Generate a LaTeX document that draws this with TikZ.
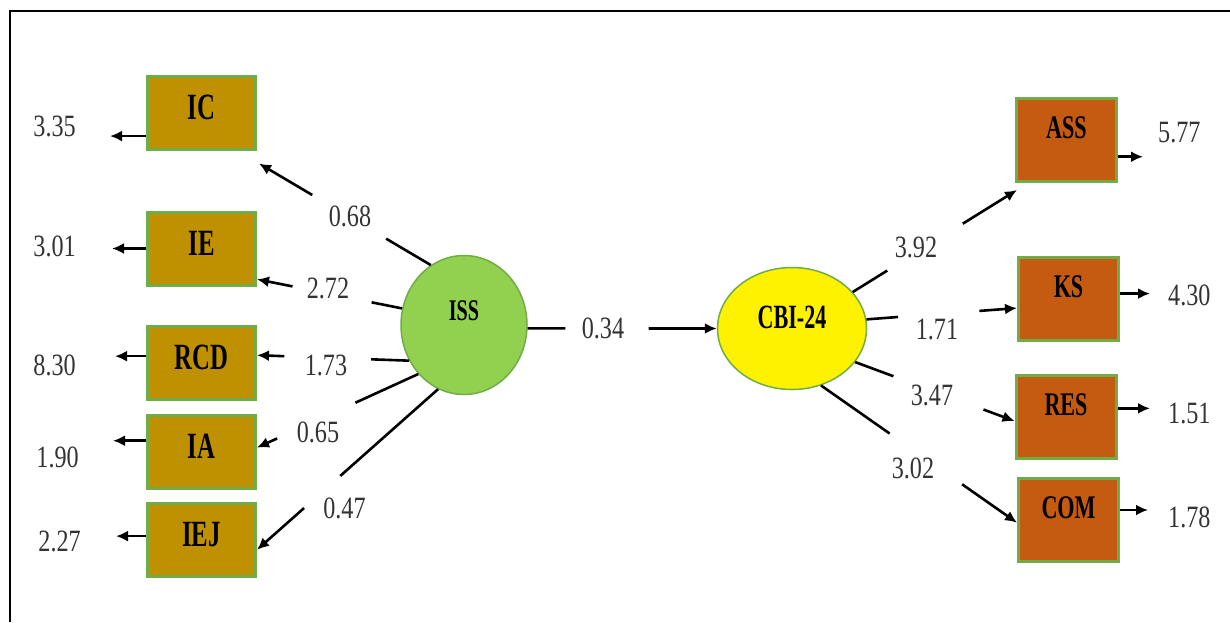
\documentclass[tikz,border=0pt]{standalone}
\usepackage{fontspec}
\setmainfont{Liberation Serif}
\usetikzlibrary{shapes.geometric,calc,arrows.meta}

\definecolor{ochre}{HTML}{BF9000}
\definecolor{rust}{HTML}{C55A11}
\definecolor{leaf}{HTML}{92D050}
\definecolor{edge}{HTML}{70AD47}

\tikzset{>={Latex[length=12pt,width=11pt]}}
\tikzset{
  lbox/.style={draw=edge, line width=3pt, fill=ochre, minimum width=108pt, minimum height=73pt,
    inner sep=0pt, text height=25pt, text depth=12pt, font=\fontsize{37}{40}\selectfont\bfseries},
  rbox/.style={draw=edge, line width=3pt, fill=rust, minimum width=100pt, minimum height=83pt,
    inner sep=0pt, text height=22pt, text depth=25pt, font=\fontsize{33}{36}\selectfont\bfseries},
  latent/.style={ellipse, draw=edge, line width=1.5pt, inner sep=0pt},
  conn/.style={line width=2.6pt},
  coef/.style={text=black!80, inner sep=0pt, font=\fontsize{31}{34}\selectfont},
}
\newcommand{\cond}[1]{\scalebox{0.67}[1]{#1}}
\newcommand{\val}[1]{\scalebox{0.78}[1]{#1}}
\newcommand{\gapline}[4]{\draw[conn,->] (#1) -- ($(#1)!#3!(#2)$) ($(#1)!#4!(#2)$) -- (#2);}

\begin{document}
\begin{tikzpicture}[x=1pt,y=-1pt]
  \useasboundingbox (0,0) rectangle (1230,622);
  \draw[line width=2.3pt] (10,622) -- (10,11) -- (1230,11);

  % indicators of ISS
  \node[lbox] (IC)  at (201.5,112.5) {\cond{IC}};
  \node[lbox] (IE)  at (201.5,248.5) {\cond{IE}};
  \node[lbox] (RCD) at (201.5,363)   {\cond{RCD}};
  \node[lbox] (IA)  at (201.5,451.5) {\cond{IA}};
  \node[lbox] (IEJ) at (201.5,540)   {\cond{IEJ}};

  % indicators of CBI-24
  \node[rbox] (ASS) at (1066.5,140)  {\cond{ASS}};
  \node[rbox] (KS)  at (1068.5,299)  {\cond{KS}};
  \node[rbox] (RES) at (1066,416.5)  {\cond{RES}};
  \node[rbox] (COM) at (1068.5,520)  {\cond{COM}};

  % latent variables
  \node[latent, fill=leaf, minimum width=126pt, minimum height=139pt,
    text height=20pt, text depth=30pt, font=\fontsize{30}{32}\selectfont\bfseries]
    (ISS) at (464,325) {\cond{ISS}};
  \node[latent, fill=yellow, minimum width=149pt, minimum height=122pt,
    text height=23pt, text depth=24pt, font=\fontsize{34}{36}\selectfont\bfseries]
    (CBI) at (792,328.5) {\scalebox{0.65}[1]{CBI-24}};

  \coordinate (ICtip) at ([shift={(2,13)}]IC.south east);
  \coordinate (ASStip) at ([shift={(2,7)}]ASS.south west);

  % loadings
  \gapline{ISS.119}{ICtip}{0.26}{0.69}
  \gapline{ISS.165}{IE.-29}{0.21}{0.755}
  \gapline{ISS.213}{RCD.8}{0.25}{0.82}
  \gapline{ISS.227}{IA.4}{0.39}{0.875}
  \gapline{ISS.248}{IEJ.-10}{0.54}{0.74}
  \gapline{ISS.-3}{CBI.west}{0.20}{0.64}
  \gapline{CBI.31}{ASStip}{0.21}{0.67}
  \gapline{CBI.7}{KS.190}{0.21}{0.75}
  \gapline{CBI.-28}{RES.185}{0.24}{0.805}
  \gapline{CBI.-63}{COM.183}{0.35}{0.72}

  \node[coef] (c068) at (350,216)   {\val{0.68}};
  \node[coef] (c272) at (328,288)   {\val{2.72}};
  \node[coef] (c173) at (326,365)   {\val{1.73}};
  \node[coef] (c065) at (318,432)   {\val{0.65}};
  \node[coef] (c047) at (344.5,508.5) {\val{0.47}};
  \node[coef] (c034) at (603,328)   {\val{0.34}};
  \node[coef] (c392) at (916,247)   {\val{3.92}};
  \node[coef] (c171) at (937,329)   {\val{1.71}};
  \node[coef] (c347) at (932,395)   {\val{3.47}};
  \node[coef] (c302) at (913,468)   {\val{3.02}};

  % error terms
  \node[coef, anchor=east] (e335) at (76,126)    {\val{3.35}};
  \node[coef, anchor=east] (e301) at (76,246.5)  {\val{3.01}};
  \node[coef, anchor=east] (e830) at (76,365.5)  {\val{8.30}};
  \node[coef, anchor=east] (e190) at (79,457)    {\val{1.90}};
  \node[coef, anchor=east] (e227) at (81,541.5)  {\val{2.27}};
  \node[coef, anchor=west] (e577) at (1158,132.5) {\val{5.77}};
  \node[coef, anchor=west] (e430) at (1168,295.5) {\val{4.30}};
  \node[coef, anchor=west] (e151) at (1168,413)   {\val{1.51}};
  \node[coef, anchor=west] (e178) at (1168,517)   {\val{1.78}};

  \draw[conn,->,shorten >=34pt] (IC.203) -- (IC.203 -| e335.east);
  \draw[conn,->,shorten >=36pt] (IE.west) -- (IE.west -| e301.east);
  \draw[conn,->,shorten >=39pt] (RCD.173) -- (RCD.173 -| e830.east);
  \draw[conn,->,shorten >=34pt] (IA.169) -- (IA.169 -| e190.east);
  \draw[conn,->,shorten >=35pt] (IEJ.176) -- (IEJ.176 -| e227.east);
  \draw[conn,->,shorten >=15pt] (ASS.-18) -- (ASS.-18 -| e577.west);
  \draw[conn,->,shorten >=18pt] (KS.6) -- (KS.6 -| e430.west);
  \draw[conn,->,shorten >=18pt] (RES.9) -- (RES.9 -| e151.west);
  \draw[conn,->,shorten >=20pt] (COM.11) -- (COM.11 -| e178.west);
\end{tikzpicture}
\end{document}
